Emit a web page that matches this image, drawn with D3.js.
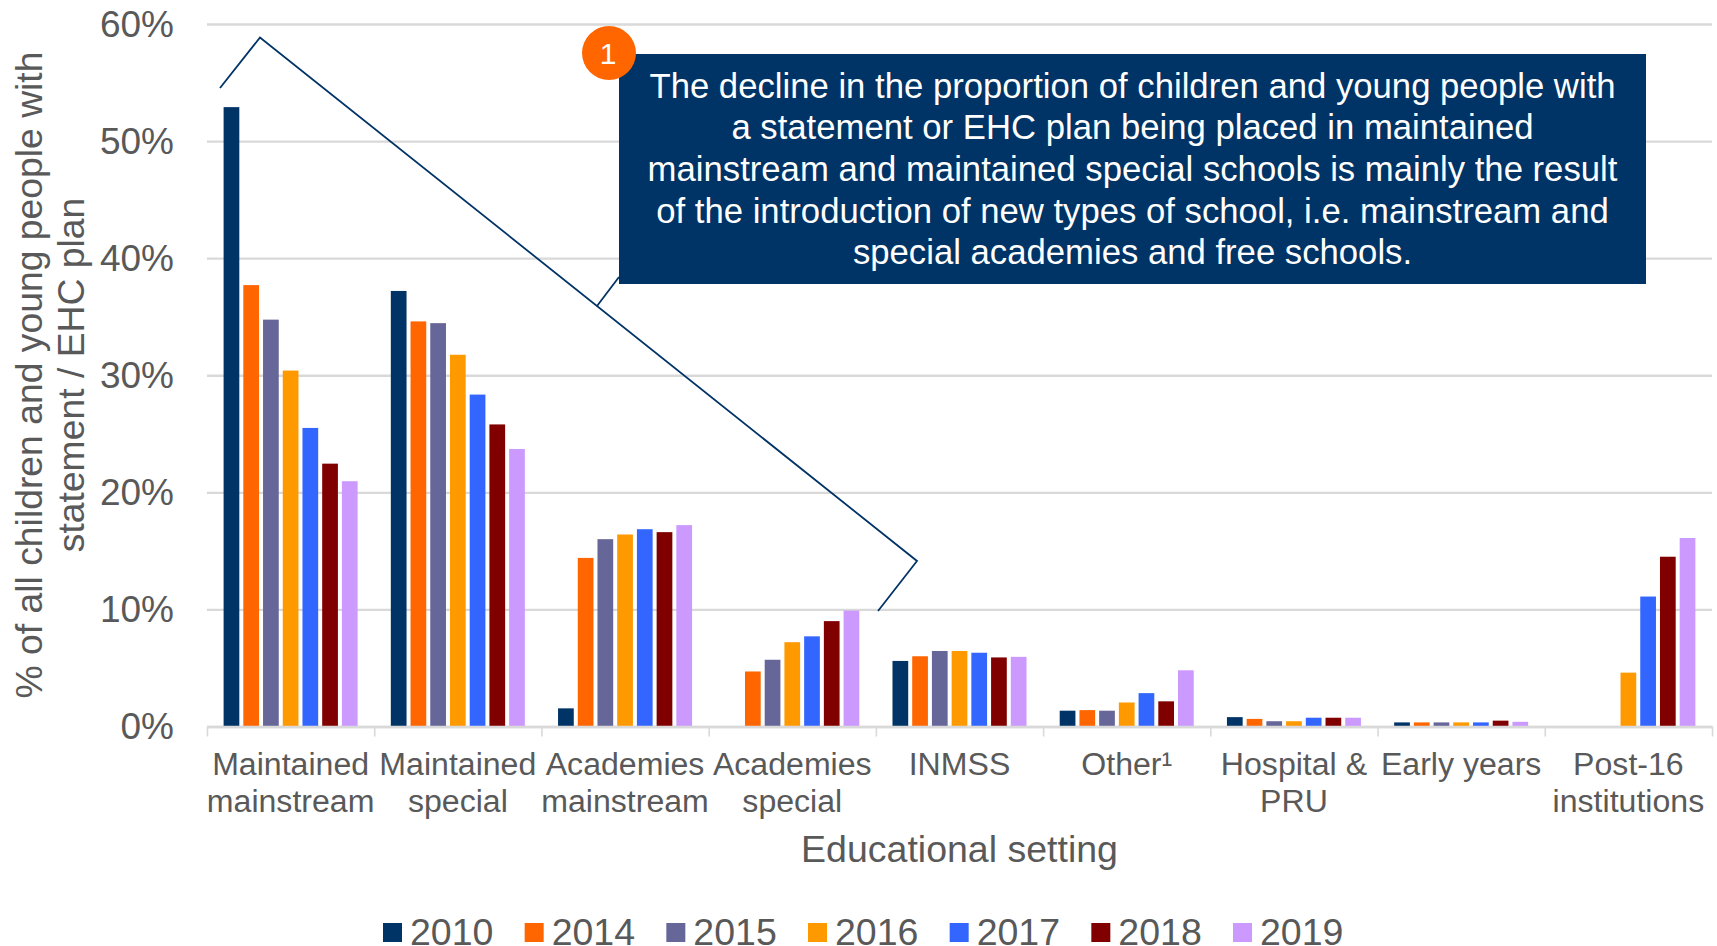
<!DOCTYPE html>
<html>
<head>
<meta charset="utf-8">
<script src="https://cdn.jsdelivr.net/npm/d3@7"></script>
<style>
html,body{margin:0;padding:0;background:#fff;overflow:hidden}
text{font-family:"Liberation Sans",Arial,sans-serif}
</style>
</head>
<body>
<svg id="c" width="1717" height="946"></svg>
<script>
const categories = [
  ["Maintained","mainstream"],["Maintained","special"],["Academies","mainstream"],
  ["Academies","special"],["INMSS"],["Other¹"],["Hospital &","PRU"],["Early years"],["Post-16","institutions"]
];
const years = ["2010","2014","2015","2016","2017","2018","2019"];
const colours = ["#003366","#ff6600","#666699","#ff9900","#3366ff","#800000","#cc99ff"];
const s2010 = [52.9,37.2,1.55,null,5.6,1.35,0.8,0.35,null];
const s2014 = [37.7,34.6,14.4,4.7,6.0,1.4,0.65,0.35,null];
const s2015 = [34.75,34.45,16.0,5.7,6.45,1.35,0.45,0.35,null];
const s2016 = [30.4,31.75,16.4,7.2,6.45,2.05,0.45,0.35,4.6];
const s2017 = [25.5,28.35,16.85,7.7,6.3,2.85,0.75,0.35,11.1];
const s2018 = [22.45,25.8,16.6,9.0,5.9,2.15,0.75,0.5,14.5];
const s2019 = [20.95,23.7,17.2,9.9,5.95,4.8,0.75,0.4,16.1];
const series = [s2010,s2014,s2015,s2016,s2017,s2018,s2019];
const yTicks = [0,10,20,30,40,50,60];
const yTitle = ["% of all children and young people with","statement / EHC plan"];
const xTitle = "Educational setting";
const callout = [
  "The decline in the proportion of children and young people with",
  "a statement or EHC plan being placed in maintained",
  "mainstream and maintained special schools is mainly the result",
  "of the introduction of new types of school, i.e. mainstream and",
  "special academies and free schools."
];

const TXT = "#595959", NAVY = "#003366", GRID = "#d9d9d9";
const L = 207, R = 1712, T = 24, B = 726.5;
const svg = d3.select("#c");

const y = d3.scaleLinear().domain([0,60]).range([B,T]);
const x0 = d3.scaleBand().domain(d3.range(categories.length)).range([L,R]).paddingInner(0).paddingOuter(0);
const x1 = d3.scaleBand().domain(d3.range(years.length))
  .range([16.6, x0.bandwidth()-16.6+4]).paddingInner(0);
const barW = x1.bandwidth() - 4;
const xEdges = d3.scaleLinear().domain([0,categories.length]).range([L,R]);

// gridlines + y axis labels
const gy = svg.append("g").attr("transform",`translate(${L},0)`)
  .call(d3.axisLeft(y).tickValues(yTicks).tickFormat(d=>d+"%").tickSize(-(R-L)).tickPadding(33));
gy.select(".domain").remove();
gy.selectAll(".tick line").attr("stroke",GRID).attr("stroke-width",2.4);
gy.selectAll(".tick text").attr("fill",TXT).attr("font-size",37).attr("dy","0.33em")
  .attr("font-family",'"Liberation Sans",Arial,sans-serif');

// bars
series.forEach((vals,si)=>{
  svg.append("g").selectAll("rect").data(vals.map((v,i)=>({v,i})).filter(d=>d.v!==null))
    .join("rect")
    .attr("x",d=>x0(d.i)+x1(si))
    .attr("width",barW)
    .attr("y",d=>y(d.v))
    .attr("height",d=>B-y(d.v))
    .attr("fill",colours[si]);
});

// x axis line + boundary ticks
const ge = svg.append("g").attr("transform",`translate(0,${B})`)
  .call(d3.axisBottom(xEdges).tickValues(d3.range(categories.length+1)).tickFormat("").tickSize(10).tickSizeOuter(0));
ge.select(".domain").attr("stroke",GRID).attr("stroke-width",2.4);
ge.selectAll(".tick line").attr("stroke",GRID).attr("stroke-width",1.6);

// category labels
const gx = svg.append("g").attr("transform",`translate(0,${B})`)
  .call(d3.axisBottom(x0).tickSize(0).tickFormat(""));
gx.select(".domain").remove();
gx.selectAll(".tick text").each(function(d){
  const t = d3.select(this).attr("y",0).attr("dy",null).attr("fill",TXT).attr("font-size",32.1)
    .attr("font-family",'"Liberation Sans",Arial,sans-serif');
  categories[d].forEach((line,i)=>{
    t.append("tspan").attr("x",0).attr("y",48.5+i*37).text(line);
  });
});

// axis titles
svg.append("text").attr("x",(L+R)/2).attr("y",862).attr("text-anchor","middle")
  .attr("font-size",37.5).attr("fill",TXT).text(xTitle);
yTitle.forEach((line,i)=>{
  svg.append("text").attr("transform",`translate(${42+i*42},375) rotate(-90)`)
    .attr("text-anchor","middle").attr("font-size",37.3).attr("fill",TXT).text(line);
});

// bracket annotation
svg.append("path").attr("fill","none").attr("stroke",NAVY).attr("stroke-width",1.8)
  .attr("d",d3.line()([[220,88],[260,37.5],[917,561],[878,611]]));
svg.append("path").attr("fill","none").attr("stroke",NAVY).attr("stroke-width",1.8)
  .attr("d",d3.line()([[597,306],[619,277]]));

// callout box
svg.append("rect").attr("x",619).attr("y",54).attr("width",1027).attr("height",230).attr("fill",NAVY);
callout.forEach((line,i)=>{
  svg.append("text").attr("x",1132.5).attr("y",97.6+i*41.7).attr("text-anchor","middle")
    .attr("font-size",34.7).attr("fill","#fff").text(line);
});
svg.append("circle").attr("cx",609).attr("cy",53).attr("r",27).attr("fill","#ff6600");
svg.append("text").attr("x",608).attr("y",64).attr("text-anchor","middle")
  .attr("font-size",30).attr("fill","#fff").text("1");

// legend
const lx = d3.scalePoint().domain(years).range([383,1233]);
years.forEach((yr,i)=>{
  svg.append("rect").attr("x",lx(yr)).attr("y",923).attr("width",19).attr("height",19).attr("fill",colours[i]);
  svg.append("text").attr("x",lx(yr)+27).attr("y",944.5).attr("font-size",37.5).attr("fill",TXT).text(yr);
});
</script>
</body>
</html>
